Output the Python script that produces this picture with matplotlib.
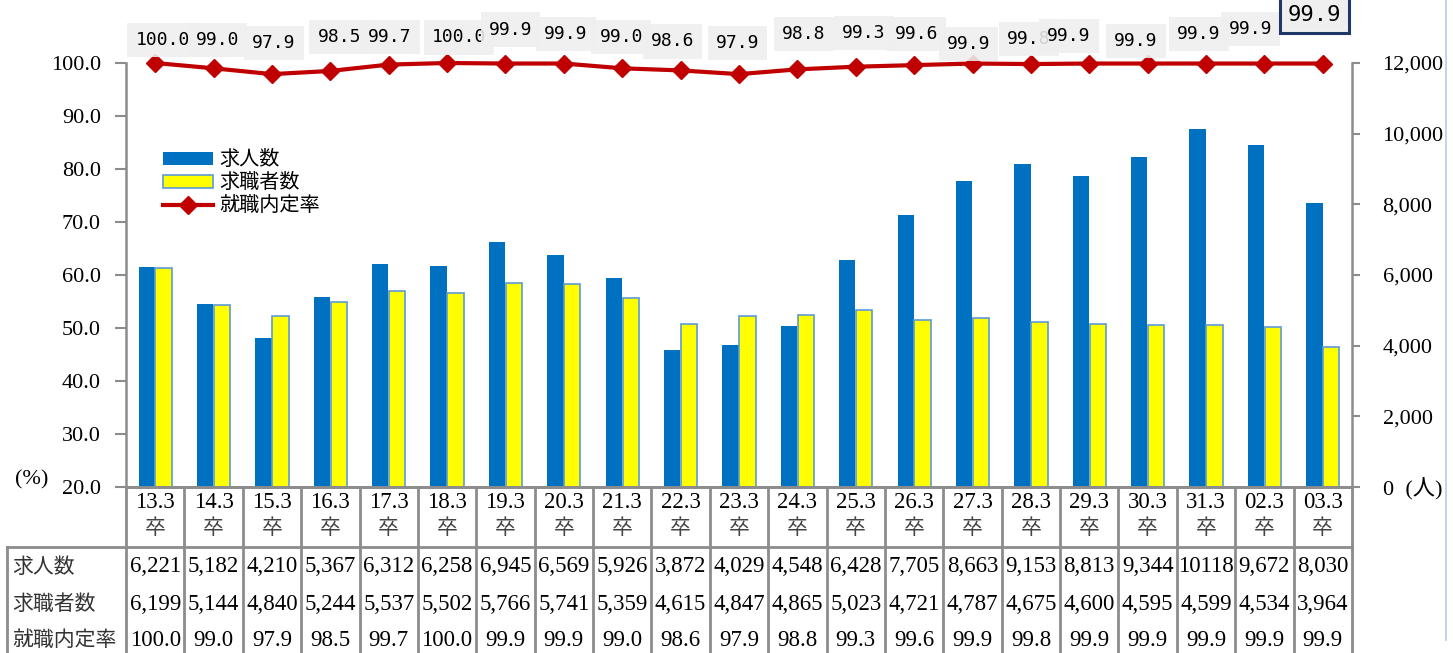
import matplotlib
matplotlib.use("Agg")
import matplotlib.pyplot as plt
import matplotlib.transforms as mtransforms
from matplotlib.lines import Line2D
from matplotlib.ticker import FormatStrFormatter, FuncFormatter

plt.rcParams['font.family'] = ['Liberation Serif', 'Noto Sans CJK JP']

# ---- data ----
categories = ["13.3", "14.3", "15.3", "16.3", "17.3", "18.3", "19.3", "20.3", "21.3", "22.3",
              "23.3", "24.3", "25.3", "26.3", "27.3", "28.3", "29.3", "30.3", "31.3", "02.3", "03.3"]
job_offers = [6221, 5182, 4210, 5367, 6312, 6258, 6945, 6569, 5926, 3872,
              4029, 4548, 6428, 7705, 8663, 9153, 8813, 9344, 10118, 9672, 8030]
job_seekers = [6199, 5144, 4840, 5244, 5537, 5502, 5766, 5741, 5359, 4615,
               4847, 4865, 5023, 4721, 4787, 4675, 4600, 4595, 4599, 4534, 3964]
rate = [100.0, 99.0, 97.9, 98.5, 99.7, 100.0, 99.9, 99.9, 99.0, 98.6,
        97.9, 98.8, 99.3, 99.6, 99.9, 99.8, 99.9, 99.9, 99.9, 99.9, 99.9]
offer_text = ["6,221", "5,182", "4,210", "5,367", "6,312", "6,258", "6,945", "6,569", "5,926", "3,872",
              "4,029", "4,548", "6,428", "7,705", "8,663", "9,153", "8,813", "9,344", "10118", "9,672", "8,030"]
series_names = ["求人数", "求職者数", "就職内定率"]

# ---- label layout (pixels) ----
label_dx_px = [7.5, 4, 2, 9, 1, 12, 5, 2, -1, -8, -1.5, 6.5, 8, 2, -4, -2, -20.5, -12, -7, -14, -8]
label_dy_px = [23, 28, 31, 34, 27.6, 25.5, 34, 29.5, 31, 29, 31, 35, 34, 31, 19.5, 25, 27.5, 22.5, 29.5, 34.5, 48.5]

W, H = 1453, 653
fig = plt.figure(figsize=(W / 100, H / 100), dpi=100)
L, R, T, B = 126, 1352, 63, 487
ax = fig.add_axes([L / W, 1 - B / H, (R - L) / W, (B - T) / H])
axr = ax.twinx()

grey = '#8c8c8c'
blue = '#0070c0'
yellow = '#ffff00'
red = '#c00000'

x = list(range(len(categories)))
bw = 0.28
off = 0.145
b1 = ax.bar([i - off for i in x], job_offers, width=bw, color=blue, edgecolor='none', zorder=2)
b2 = ax.bar([i + off for i in x], job_seekers, width=bw, color=yellow, edgecolor='#5b9bd5',
            linewidth=1.2, zorder=2)
ax.set_xlim(-0.5, len(categories) - 0.5)
ax.set_ylim(0, 12000)
ax.set_yticks(range(0, 12001, 2000))
ax.yaxis.tick_right()
ax.yaxis.set_major_formatter(FuncFormatter(lambda v, p: "0  (人)" if v == 0 else f"{int(v):,}"))
ax.tick_params(axis='y', direction='out', length=6, width=1.5, color=grey, pad=16, labelsize=16)
ax.set_xticks([])
ax.spines['top'].set_visible(False)
for s in ['left', 'right', 'bottom']:
    ax.spines[s].set_color(grey)
    ax.spines[s].set_linewidth(1.8)

line, = axr.plot(x, rate, color=red, lw=3, marker='D', ms=9, clip_on=False, zorder=4)
axr.set_ylim(20, 100)
axr.set_yticks(range(20, 101, 10))
axr.yaxis.tick_left()
axr.yaxis.set_major_formatter(FormatStrFormatter('%.1f'))
axr.tick_params(axis='y', direction='out', length=8, width=1.5, color=grey, pad=10, labelsize=16)
for s in axr.spines.values():
    s.set_visible(False)

# data labels
for i, r in enumerate(rate):
    last = (i == len(rate) - 1)
    axr.annotate(f"{r:.1f}", xy=(i, r),
                 xytext=(label_dx_px[i] * 0.72, label_dy_px[i] * 0.72), textcoords='offset points',
                 ha='center', va='center', family='DejaVu Sans Mono',
                 fontsize=16 if last else 13, color='black',
                 bbox=dict(boxstyle='square,pad=0.45' if not last else 'square,pad=0.35',
                           fc=(0.937, 0.937, 0.937, 0.88) if not last else '#efefef',
                           ec='#1f3864' if last else 'none', lw=2.2 if last else 0),
                 annotation_clip=False, zorder=6)

# legend
leg = axr.legend([b1, b2, line], series_names, loc='upper left', bbox_to_anchor=(0.022, 0.82),
                 frameon=False, prop={'family': 'Noto Sans CJK JP', 'size': 14.5},
                 handlelength=2.5, handleheight=0.6, labelspacing=0.1, handletextpad=0.3, borderpad=0)

# "(%)"
fig.text(15 / W, 1 - 480 / H, "(%)", fontsize=16, ha='left', va='center')

# ---- table ----
tr = ax.get_xaxis_transform()
def py(p):
    return (B - p) / (B - T)

for i, c in enumerate(categories):
    ax.text(i, py(503), c, transform=tr, ha='center', va='center', fontsize=16.5, clip_on=False)
    ax.text(i, py(528), "卒", transform=tr, ha='center', va='center', fontsize=15,
            family='Noto Sans CJK JP', color='#444444', clip_on=False)
    ax.text(i, py(567), offer_text[i], transform=tr, ha='center', va='center', fontsize=16.5, clip_on=False)
    ax.text(i, py(604), f"{job_seekers[i]:,}", transform=tr, ha='center', va='center', fontsize=16.5, clip_on=False)
    ax.text(i, py(640), f"{rate[i]:.1f}", transform=tr, ha='center', va='center', fontsize=16.5, clip_on=False)

ftr = mtransforms.blended_transform_factory(fig.transFigure, ax.transAxes)
for name, yy in zip(series_names, [567, 604, 640]):
    ax.text(12 / W, py(yy), name, transform=ftr, ha='left', va='center', fontsize=15,
            family='Noto Sans CJK JP', color='#333333', clip_on=False)

# grid lines of table
for k in range(len(categories) + 1):
    ax.add_line(Line2D([k - 0.5, k - 0.5], [0, py(660)], transform=tr, color=grey, lw=2, clip_on=False))
ax.add_line(Line2D([7 / W, R / W], [py(547), py(547)], transform=ftr, color=grey, lw=2, clip_on=False))
ax.add_line(Line2D([7 / W, 7 / W], [py(547), py(660)], transform=ftr, color=grey, lw=2, clip_on=False))
ax.add_line(Line2D([L / W, R / W], [0, 0], transform=ftr, color=grey, lw=2, clip_on=False))

# right frame line
fig.add_artist(Line2D([1446 / W, 1446 / W], [1 - 640 / H, 1.0], transform=fig.transFigure,
                      color='#b8cce4', lw=1.2))

fig.savefig("out.png", dpi=100)
